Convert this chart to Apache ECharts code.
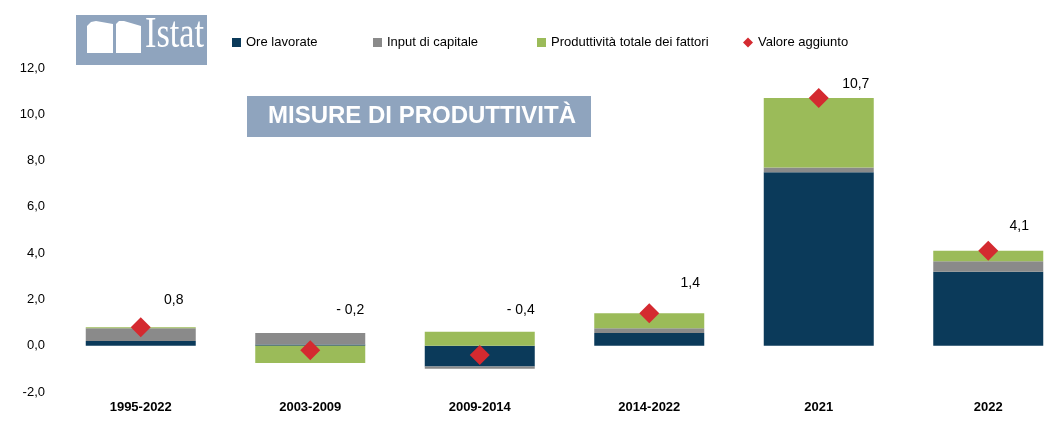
<!DOCTYPE html>
<html lang="it">
<head>
  <meta charset="UTF-8" />
  <title>Misure di produttività</title>
  <script src="https://cdn.jsdelivr.net/npm/echarts@6/dist/echarts.min.js"></script>
  <style>
    body { margin: 0; padding: 0; background: #fff; }
    #main { width: 1050px; height: 422px; }
  </style>
</head>
<body>
  <div id="main"></div>
  <script>
    // dati
    const periodi = ['1995-2022', '2003-2009', '2009-2014', '2014-2022', '2021', '2022'];
    const oreLavorate = [0.2, 0.05, -0.9, 0.55, 7.5, 3.2];
    const inputCapitale = [0.55, 0.5, -0.1, 0.2, 0.2, 0.45];
    const produttivita = [0.05, -0.75, 0.6, 0.65, 3.0, 0.45];
    const valoreAggiunto = [0.8, -0.2, -0.4, 1.4, 10.7, 4.1];

    // spostamento delle etichette rispetto al rombo
    const labelOffsets = [[33, -27], [40, -40], [41, -45], [41, -30], [37, -14], [31, -25]];

    const fmt = v => (v < 0 ? '- ' : '') + Math.abs(v).toFixed(1).replace('.', ',');

    const chart = echarts.init(document.getElementById('main'));
    const font = 'Liberation Sans, Arial, sans-serif';

    function legend(name, left, icon, size) {
      return {
        data: [name], left: left, top: 31, icon: icon,
        itemWidth: size, itemHeight: size, itemGap: 4,
        textStyle: { fontFamily: font, fontSize: 13, color: '#000' }
      };
    }

    chart.setOption({
      backgroundColor: '#fff',
      animation: false,
      legend: [
        legend('Ore lavorate', 227, 'rect', 9),
        legend('Input di capitale', 368, 'rect', 9),
        legend('Produttività totale dei fattori', 532, 'rect', 9),
        legend('Valore aggiunto', 738, 'diamond', 10)
      ],
      grid: { left: 56, top: 68, height: 324, width: 1017, outerBoundsMode: 'none', containLabel: false },
      xAxis: {
        type: 'category',
        data: periodi,
        axisLine: { show: false },
        axisTick: { show: false },
        axisLabel: {
          margin: 9, fontFamily: font, fontSize: 13, fontWeight: 'bold', color: '#000'
        }
      },
      yAxis: {
        type: 'value',
        min: -2, max: 12, interval: 2,
        splitLine: { show: false },
        axisLine: { show: false },
        axisTick: { show: false },
        axisLabel: {
          margin: 11, fontFamily: font, fontSize: 13, color: '#000',
          formatter: v => v.toFixed(1).replace('.', ',')
        }
      },
      graphic: [
        // logo Istat
        { type: 'rect', shape: { x: 76, y: 15, width: 131, height: 50 }, style: { fill: '#8fa4be' } },
        { type: 'polygon', shape: { points: [[87, 53], [87, 26], [91, 22], [96, 21], [113, 24], [113, 53]] }, style: { fill: '#fff' } },
        { type: 'polygon', shape: { points: [[116, 53], [116, 24], [119, 21], [124, 21], [141, 26], [141, 53]] }, style: { fill: '#fff' } },
        {
          type: 'text', x: 145, y: 13, scaleX: 0.78,
          style: { x: 0, y: 0, text: 'Istat', fill: '#fff', verticalAlign: 'top', font: '44px "Liberation Serif", "DejaVu Serif", serif' }
        },
        // titolo
        { type: 'rect', shape: { x: 247, y: 96, width: 344, height: 41 }, style: { fill: '#8fa4be' } },
        { type: 'text', left: 268, top: 104, style: { text: 'MISURE DI PRODUTTIVITÀ', fill: '#fff', font: 'bold 24px "Liberation Sans", Arial, sans-serif' } }
      ],
      series: [
        {
          name: 'Ore lavorate', type: 'bar', stack: 'tot', barWidth: 110,
          itemStyle: { color: '#0b3a5a' }, data: oreLavorate
        },
        {
          name: 'Input di capitale', type: 'bar', stack: 'tot',
          itemStyle: { color: '#8a8a8a' }, data: inputCapitale
        },
        {
          name: 'Produttività totale dei fattori', type: 'bar', stack: 'tot',
          itemStyle: { color: '#9bbb59' }, data: produttivita
        },
        {
          name: 'Valore aggiunto', type: 'scatter', symbol: 'diamond', symbolSize: [20, 20],
          itemStyle: { color: '#d42a30', opacity: 1 }, z: 5,
          data: valoreAggiunto.map((v, i) => ({
            value: v,
            label: { offset: labelOffsets[i] }
          })),
          label: {
            show: true, position: 'inside', color: '#000',
            fontFamily: font, fontSize: 14,
            formatter: p => fmt(p.value)
          }
        }
      ]
    });
  </script>
</body>
</html>
